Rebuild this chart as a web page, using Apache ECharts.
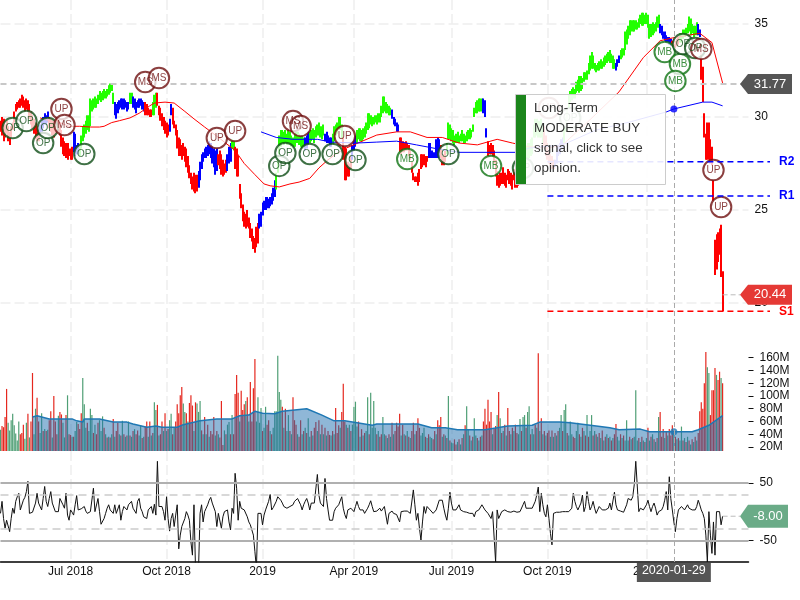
<!DOCTYPE html>
<html>
<head>
<meta charset="utf-8">
<style>html,body{margin:0;padding:0;background:#fff}#c{width:800px;height:600px}</style>
<script src="https://cdn.jsdelivr.net/npm/echarts@6/dist/echarts.min.js"></script>
</head>
<body>
<div id="c"></div>
<script>
const barHigh = [
29.8,30.0,29.9,29.6,29.8,29.5,29.2,29.5,29.7,30.3,
30.7,30.8,30.9,31.0,31.2,31.1,30.9,31.0,30.9,30.7,
30.3,30.1,29.9,29.7,29.5,29.3,29.6,29.8,30.0,30.2,
30.1,30.3,30.0,29.9,29.8,29.7,29.8,29.9,29.8,29.7,
29.3,28.9,28.7,28.6,28.6,28.3,28.3,28.4,29.2,29.1,
28.5,28.6,28.4,29.0,29.5,29.6,29.8,30.1,30.1,31.0,
30.9,31.0,31.1,31.0,31.2,31.4,31.3,31.4,31.5,31.4,
31.5,31.7,31.8,31.8,31.3,30.8,30.7,30.8,30.9,31.0,
31.0,31.0,30.9,30.8,30.8,31.3,31.3,31.1,31.0,30.8,
30.9,31.0,31.0,30.9,30.8,30.8,30.7,30.5,30.4,30.4,
30.8,31.2,31.3,31.3,30.6,30.5,30.2,30.0,29.8,29.7,
29.6,29.9,30.7,30.5,29.8,29.6,29.3,28.9,28.8,28.5,
28.6,28.4,28.3,27.9,27.4,27.0,26.8,27.0,26.9,26.9,
27.1,27.6,28.0,28.1,28.3,28.4,28.5,28.7,28.6,28.4,
28.3,28.2,28.3,28.0,28.2,28.0,27.7,27.5,27.7,28.0,
28.4,28.6,28.8,28.7,28.4,28.3,27.9,26.4,25.9,25.3,
24.9,24.8,25.0,24.6,24.3,24.0,23.6,23.5,24.1,24.3,
24.8,24.9,25.4,25.5,25.7,25.7,25.6,25.7,25.9,26.2,
26.6,27.0,27.9,29.0,29.3,29.3,29.2,29.3,29.1,29.3,
29.2,29.0,28.9,29.1,29.2,29.2,29.1,29.0,29.0,28.9,
28.9,29.0,29.2,29.2,29.3,29.4,29.3,29.5,29.6,29.7,
29.5,29.5,29.6,29.1,29.2,29.0,28.9,28.9,29.1,29.5,
29.6,29.7,30.0,30.0,29.6,28.9,28.4,28.3,27.6,27.5,
27.9,28.5,28.8,29.0,29.3,29.4,29.4,29.3,29.4,29.5,
29.7,30.2,30.2,30.1,30.0,30.0,30.1,30.1,30.2,30.2,
30.6,31.1,31.1,30.8,30.7,30.6,30.5,30.4,30.0,29.9,
29.7,29.6,28.9,28.9,28.7,28.6,28.7,28.6,28.5,28.2,
27.6,27.0,26.8,26.8,27.0,27.2,28.0,28.0,28.0,27.9,
27.9,28.6,28.6,28.2,28.1,28.1,28.8,28.9,28.8,28.5,
27.9,28.0,28.2,28.6,29.7,29.6,29.4,29.3,29.0,29.1,
29.2,29.0,29.1,29.3,29.1,29.0,29.2,29.3,29.4,29.3,
29.6,30.5,30.8,30.9,31.0,31.0,31.0,31.0,30.9,29.4,
28.7,28.5,28.6,28.5,28.2,27.7,27.1,26.9,27.0,27.0,
27.3,27.0,26.9,27.2,27.1,27.0,26.9,27.2,27.1,27.0,
27.0,27.1,27.3,27.4,28.1,28.4,28.6,28.6,28.8,28.9,
29.6,29.9,29.9,29.8,29.8,29.9,29.6,29.5,29.0,28.6,
28.2,28.0,27.9,27.7,27.7,28.2,28.5,28.6,28.8,28.9,
29.5,30.0,30.5,31.2,31.4,31.5,31.6,31.5,31.9,32.0,
32.2,32.2,32.1,32.4,32.4,32.5,32.9,33.3,33.5,33.3,
32.9,32.8,32.9,33.0,33.1,33.0,33.2,33.3,33.4,33.5,
33.6,33.4,33.3,33.1,32.9,33.1,33.3,33.6,33.7,33.7,
34.6,34.7,34.9,35.2,35.2,35.2,35.2,35.2,35.1,35.3,
35.5,35.6,35.6,35.5,35.6,35.5,35.0,35.0,35.1,35.0,
35.1,35.4,35.5,35.0,34.9,34.6,34.6,34.4,34.3,34.3,
34.2,34.1,34.2,34.1,34.2,34.3,34.5,34.5,34.7,34.7,
34.8,35.0,35.4,35.3,35.0,34.9,34.9,35.1,35.0,34.7,
33.6,32.7,30.2,29.1,29.7,29.7,28.8,28.4,26.6,23.4,23.7,23.8,24.0,24.2,21.7];
const barLow = [
29.2,29.0,28.7,28.9,29.1,28.7,28.5,28.9,29.3,29.7,
30.3,30.4,30.5,30.5,30.6,30.5,30.3,30.4,30.3,29.9,
29.6,29.4,29.1,28.8,28.7,28.7,29.0,29.2,29.4,29.6,
29.6,29.7,29.4,29.2,29.0,28.9,29.1,29.3,29.2,29.0,
28.4,28.0,27.9,27.8,27.7,27.9,27.7,27.7,28.1,27.9,
28.0,28.0,27.9,28.3,28.7,28.9,29.1,29.3,29.2,29.5,
30.3,30.4,30.5,30.5,30.7,30.9,30.8,30.9,31.0,31.0,
31.1,31.2,31.3,31.4,30.7,30.1,29.9,30.2,30.4,30.5,
30.4,30.4,30.5,30.3,30.4,30.7,30.7,30.5,30.4,30.2,
30.5,30.5,30.6,30.4,30.3,30.1,30.1,30.1,30.0,30.0,
30.1,30.1,30.5,30.6,30.1,29.8,29.5,29.3,29.1,28.9,
29.0,29.2,30.1,29.6,29.4,29.0,28.3,27.9,27.9,27.7,
27.9,27.6,27.3,27.0,26.7,26.4,26.1,26.0,25.9,26.0,
26.2,26.6,27.2,27.6,27.8,27.8,27.9,28.0,27.8,27.5,
27.3,26.9,27.1,27.4,27.2,26.9,26.8,26.9,27.0,27.1,
27.5,27.6,28.3,28.2,27.2,26.8,26.8,25.6,25.1,24.4,
24.1,24.0,24.1,24.0,23.5,23.3,22.9,22.7,23.0,23.2,
24.0,24.1,24.7,25.0,25.0,25.1,25.1,25.2,25.3,25.5,
25.7,26.1,27.0,28.0,28.4,28.6,28.5,28.6,28.5,28.5,
28.5,28.4,28.3,28.4,28.6,28.6,28.5,28.4,28.3,28.3,
28.2,28.3,28.5,28.6,28.7,28.8,28.6,28.9,29.0,29.0,
28.9,28.8,29.0,28.7,28.6,28.6,28.4,28.4,28.5,28.7,
29.0,29.1,29.3,29.3,28.8,27.7,26.6,26.6,26.8,26.8,
27.2,27.7,28.2,28.4,28.6,28.8,28.7,28.7,28.8,28.9,
29.1,29.3,29.4,29.6,29.5,29.6,29.7,29.6,29.7,29.7,
30.0,30.2,30.3,30.2,30.2,30.1,30.1,29.9,29.6,29.5,
29.2,29.2,28.1,28.0,28.1,28.1,28.2,28.2,27.9,27.7,
27.0,26.6,26.5,26.5,26.3,26.5,27.2,27.3,27.4,27.3,
27.6,27.8,27.8,27.8,27.8,27.8,27.8,27.8,27.8,27.8,
27.4,27.4,27.6,28.0,28.8,28.8,28.7,28.6,28.5,28.6,
28.6,28.6,28.7,28.7,28.6,28.6,28.7,28.8,28.8,28.9,
29.2,30.0,30.2,30.2,30.3,30.3,30.3,30.2,30.0,28.9,
27.9,28.0,28.0,27.9,27.5,26.8,26.3,26.2,26.3,26.4,
26.4,26.3,26.2,26.6,26.4,26.3,26.1,26.6,26.2,26.2,
26.3,26.5,26.6,26.8,27.2,27.6,27.7,27.8,27.9,28.0,
28.9,28.9,29.0,28.9,28.9,28.9,28.6,28.4,27.9,27.7,
27.5,27.4,27.2,27.2,27.3,27.5,27.9,28.0,28.2,28.3,
28.6,29.2,29.9,30.5,30.8,30.9,31.0,31.0,31.3,31.4,
31.3,31.4,31.5,31.9,32.0,32.0,32.3,32.5,32.6,32.6,
32.5,32.4,32.5,32.5,32.6,32.6,32.7,32.8,32.9,33.0,
32.9,32.9,32.6,32.6,32.5,32.7,32.9,33.1,33.2,33.3,
33.6,33.9,34.2,34.4,34.6,34.6,34.6,34.7,34.7,34.8,
35.0,34.9,34.9,35.0,35.0,34.8,34.2,34.3,34.4,34.5,
34.6,34.8,34.8,34.5,34.4,34.2,34.1,34.0,34.0,33.9,
33.8,33.8,33.7,33.7,33.8,33.9,34.0,34.0,34.2,34.3,
34.4,34.5,34.6,34.4,34.5,34.3,34.4,34.4,34.4,34.3,
32.0,30.8,28.9,27.7,27.7,27.7,27.5,27.4,25.5,21.5,21.8,22.2,22.6,21.4,19.55];
const trendStarts = [0,26,32,48,52,75,85,87,95,100,103,111,113,130,143,149,152,154,170,181,200,203,213,218,225,231,234,257,262,281,289,293,317,320,344,357,364,370,404,407,433,441,446,458,460];
const trendNames  = "r b r b g b g b r g r b r b r b g r b g b g b g r b g b r b r g b r g r b g b g b r g b r".split(" ");
const volumes = [
47,53,51,67,111,58,46,62,72,54,
41,30,60,40,42,55,33,58,72,35,
60,136,40,80,97,60,42,73,45,48,
45,47,62,76,35,100,60,40,69,75,
71,58,35,70,101,40,39,36,36,45,
59,56,48,73,128,87,50,58,45,80,
70,42,55,40,58,62,45,68,50,40,
35,36,35,40,64,36,45,58,40,38,
61,40,36,38,60,38,36,45,48,40,
46,38,54,34,36,52,60,36,60,38,
42,90,78,86,38,40,60,45,73,45,
48,62,72,40,50,60,87,73,101,114,
88,75,73,60,89,101,85,45,90,88,
75,92,46,40,67,40,55,36,45,40,
67,38,45,40,35,92,23,46,40,55,
59,40,70,40,103,133,105,60,108,78,
87,92,98,60,122,60,112,158,60,98,
58,81,45,50,83,55,62,45,40,50,
76,76,163,106,94,83,50,80,45,70,
45,40,98,62,55,40,36,62,40,45,
50,42,65,36,45,38,50,59,45,62,
40,55,40,50,38,45,39,38,45,40,
81,42,54,50,75,119,60,55,50,55,
45,55,83,91,52,60,36,48,38,42,
45,98,40,105,50,92,50,40,45,36,
40,67,40,38,34,40,36,58,40,45,
58,52,72,38,55,40,38,45,36,34,
45,58,40,45,65,50,38,42,50,36,
34,40,36,34,32,45,40,62,54,67,
36,40,38,34,100,30,27,26,32,24,
28,32,24,34,40,54,84,48,38,30,
36,65,38,34,30,36,38,60,80,55,
94,60,75,40,48,53,70,106,65,42,
45,55,38,81,45,40,50,45,55,42,
40,64,45,67,70,50,75,84,40,48,
40,55,50,167,45,65,40,45,38,42,
46,36,46,36,42,38,45,50,70,45,
78,87,42,38,60,40,36,34,45,58,
40,36,50,45,38,70,36,45,70,38,
45,40,36,42,34,46,30,36,40,34,
36,30,34,40,56,36,30,40,34,38,
30,62,30,36,32,34,36,109,30,34,
28,36,30,28,34,50,30,36,40,32,
28,34,67,75,36,48,34,44,38,48,
38,54,42,36,32,34,30,52,30,34,
28,36,30,24,32,28,36,30,42,76,
90,80,120,169,145,136,70,109,109,144,133,125,138,128,120];
const volumeSides = [
"grrrrggggg","gggrrrggrg","rrggrrggrg","rgrrgrrrgr","rggrgrrgrg","grrrgggrgg","grgrrgggrg","rgrgrgrrgr",
"grgrgrgrgr","rggrgrrgrg","rggrgrrgrg","rggrgrrrrr","ggrgrrrgrg","ggrgrgrgrr","rgrgrrrgrg","grgrrrrgrr",
"rgrgrrrrgg","ggrggrrgrg","gggggrgrgg","rgrrrgrrgr","grggrgrrgr","grgrgrrgrg","rrrgrrrgrg","rggggrgrgr",
"ggrggggrgr","rggrgrgrgr","rrrgrgrgrg","rrgrrrgggr","grggrrgrrr","grgrgrggrr","grgrgrggrg","rggrgrgrrr",
"rrrgrrgrgr","grgrrgrgrr","ggrggrggrg","grgrgrgrgr","rgrgrgrggr","ggrgggrrgg","rgrgrgrggr","grgrgrgrgr",
"grgrrggrgr","gggrgrgggr","grgrgrgrgr","grgrrrgrgr","rrgrgrggrg","rgrgrgrgrr","rrrrggrrrrgrrgr"].join("");
const volumeAvgIndex = [21,24,32,47,50,54,55,65,74,83,87,96,102,106,116,120,131,142,152,157,163,167,172,180,185,193,201,211,219,226,234,244,247,274,283,292,300,318,326,333,349,354,367,374,391,400,406,420,426,454,458,465,474];
const volumeAvgValue = [67,69,64,64,61,59,64,64,59,59,56,51,53,51,51,55,61,64,64,69,70,76,73,72,76,78,80,70,61,61,58,54,56,56,50,50,47,47,50,53,54,59,59,58,53,50,47,48,44,44,47,54,69];
const cciValues = [
-3,18,-12,-29,-15,-12,-35,-12,6,-3,
18,26,32,3,6,20,25,35,53,-3,
-1,-1,0,15,32,15,12,3,23,44,
18,9,23,35,15,12,0,-1,0,23,
23,12,6,32,-6,-15,3,-1,-6,12,
28,3,3,5,6,9,1,-3,-1,0,
3,41,0,0,23,0,-22,-20,-12,-3,
6,12,3,0,-3,12,-3,-3,12,-15,
0,9,6,3,12,12,18,6,3,-3,
18,23,6,0,-9,-6,-12,3,3,9,
-3,13,-6,88,9,6,9,0,-15,26,
-12,-34,-12,-3,-26,-6,12,-65,-41,-26,
-26,-12,0,-6,-15,-53,-76,12,-99,-99,
-99,-3,12,-18,0,6,12,20,25,15,
12,0,-26,-3,-3,-29,-9,0,0,3,
-18,-32,6,-3,67,41,-15,18,6,6,
3,3,-9,-18,-23,-32,-41,-70,-99,-3,
-3,-3,-23,-6,3,0,18,30,3,7,
9,18,26,26,20,15,9,12,6,3,
9,9,12,18,15,23,20,12,3,12,
18,23,15,3,15,18,15,15,65,29,
15,12,9,58,23,3,-15,-18,-15,0,
6,9,12,15,26,6,-5,-12,3,0,
6,9,0,9,18,9,3,0,3,-3,
0,6,12,19,9,0,-1,1,3,6,
1,3,9,12,-22,-3,-1,1,-3,0,
-5,-3,-18,0,3,1,0,1,-1,-3,
0,38,12,-15,-3,-29,-50,-18,9,-3,
9,9,3,0,-3,-6,3,3,20,20,
20,6,-6,-15,6,34,15,3,6,3,
6,12,3,3,0,3,-1,0,-3,0,
-3,-9,0,0,3,3,12,12,3,0,
-3,0,-12,0,3,-88,3,-12,-6,0,
3,3,3,0,-3,-1,0,1,0,-1,
0,0,1,12,18,6,3,6,3,6,
3,18,29,43,0,32,12,-3,-9,12,
-12,-38,-58,-3,-1,-1,0,-1,0,0,
-1,0,0,0,3,6,32,18,9,3,
6,15,29,0,9,35,18,3,9,18,
6,-3,3,9,6,3,0,3,3,6,
15,3,6,34,12,3,1,1,0,-1,
0,12,23,20,20,26,47,88,88,0,
6,9,3,3,12,20,9,0,9,15,
6,-6,0,0,3,9,20,35,3,61,
23,3,-18,-35,-12,3,5,9,9,3,
3,12,6,6,3,0,3,9,20,12,
3,-3,-12,-41,-88,0,-41,-73,-18,-76,0,0,0,-23,-8];
const redAvgIndex = [26,32,39,45,52,59,65,68,73,78,85,91,98,101,108,114,121,127,134,141,147,154,160,167,173,177,183,190,196,203,209,215,221,227,236,247,260,269,280,290,301,313,326,336,347,360,369,385,406,422,433,441,459,467,474];
const redAvgValue = [29.95,29.8,29.7,29.5,29.5,29.46,29.46,29.5,29.7,29.8,29.95,30.2,30.6,30.75,30.8,30.75,30.3,29.9,29.46,29.03,28.65,28.2,27.5,26.9,26.4,26.3,26.24,26.4,26.5,26.7,27.26,27.7,28.06,28.33,28.65,29.03,29.2,29.2,28.9,28.9,28.6,28.5,28.8,28.6,28.4,28.33,28.5,29.7,31.35,33.2,34.1,34.25,34.5,34.0,31.83];
const blueAvgIndex = [171,181,192,208,217,234,247,260,273,286,301,323,339,347,369,391,413,437,442,461,467,474];
const blueAvgValue = [29.2,28.9,28.8,28.8,28.65,28.6,28.65,28.7,28.5,28.3,28.1,28.1,28.1,28.33,28.5,29.3,29.73,30.27,30.43,30.8,30.8,30.6];
const signalIndex = [8,17,28,31,40,42,55,95,104,142,154,183,187,192,197,203,218,226,233,267,294,322,343,360,374,436,446,443,448,456,460,468,473];
const signalPrice = [29.41,29.78,28.6,29.41,30.43,29.57,28.01,31.88,32.1,28.87,29.25,27.37,28.06,29.78,29.52,28.01,28.01,28.98,27.69,27.74,28.01,27.37,27.26,30.48,29.95,33.49,32.85,31.94,33.92,33.71,33.66,27.15,25.16];
const signalText = ["OP","OP","OP","OP","UP","MS","OP","MS","MS","UP","UP","OP","OP","MS","MS","OP","OP","UP","OP","MB","OP","MB","OP","UP","OP","MB","MB","MB","OP","OP","MS","UP","UP"];
const tickIndex = [46,109,172,232,296,359,424];
const tickNames = ["Jul 2018","Oct 2018","2019","Apr 2019","Jul 2019","Oct 2019","2020"];
const priceTicks = [20,25,30,35];
const volumeTicks = [20,40,60,80,100,120,140,160];
const cciTicks = [-50,50];
const levelNames = ["R2","R1","S1"];
const levelValues = [27.6,25.75,19.55];
const levelColors = ["#0000ff","#0000ff","#ff0000"];
const crossIndex = 442;
const crossDate = "2020-01-29";
const crossVolume = 44;
const lastAverage = 31.77;
const lastPrice = 20.44;
const lastCci = -8;
const lastIndex = 474;
const noteLines = ["Long-Term","MODERATE BUY","signal, click to see","opinion."];

const FONT = "'Liberation Sans', Arial, sans-serif";
const CAT_COUNT = 492;
const categories = Array.from({length: CAT_COUNT}, (_, i) => String(i));
const TREND = {r:"#ff0000", g:"#22ff00", b:"#0000ff"};
const SIDE = {r:"#e5281f", g:"#4f9f75"};
const SIGNAL = {OP:"#0f4d17", MB:"#0e7312", UP:"#6e0f0f", MS:"#6e0f0f"};

function trendAt(i){
  let k = 0;
  for (let j = 0; j < trendStarts.length; j++) if (trendStarts[j] <= i) k = j;
  return TREND[trendNames[k]];
}
const priceBars = barHigh.map((h, i) => [i, barLow[i], h]);
function renderPriceBar(params, api){
  const i = api.value(0);
  const top = api.coord([i, api.value(2)]);
  const bottom = api.coord([i, api.value(1)]);
  const left = Math.round(top[0]) - 1;
  return {type:"rect", shape:{x:left, y:top[1], width:2, height:Math.max(1, bottom[1]-top[1])}, style:{fill:trendAt(i)}};
}
const volumeBars = volumes.map((v, i) => ({value:v, itemStyle:{color:SIDE[volumeSides[i]] || SIDE.g}}));
const pair = (a, b) => a.map((x, i) => [x, b[i]]);
const splitLine = {show:true, interval:(i) => tickIndex.indexOf(i) >= 0, lineStyle:{color:"#eeeeee", width:1.5, type:[10,4]}};
const crossLine = {xAxis:crossIndex, lineStyle:{color:"#aaaaaa", width:1, type:[5,3]}};
const marker = (data) => ({silent:true, symbol:"none", animation:false, label:{show:false}, data});

function xAxis(gridIndex, labels){
  return {type:"category", gridIndex, data:categories, boundaryGap:false,
    axisLine:{show:labels, onZero:false, lineStyle:{color:"#000", width:1.5}},
    axisTick:{show:false}, splitLine,
    axisLabel:{show:labels, color:"#111", fontFamily:FONT, fontSize:12, margin:4, hideOverlap:false,
      interval:(i) => tickIndex.indexOf(i) >= 0,
      formatter:(v, i) => tickNames[tickIndex.indexOf(i)] || ""}};
}
function yAxis(gridIndex, min, max, ticks, tickShow, margin, fmt, grid){
  return {type:"value", gridIndex, position:"right", min, max, scale:true,
    axisLine:{show:false},
    axisTick:{show:tickShow, length:5, customValues:ticks, lineStyle:{color:"#111"}},
    splitLine:grid ? {show:true, lineStyle:{color:"#eeeeee", width:1.5, type:[10,4]}} : {show:false},
    axisLabel:{color:"#111", fontFamily:FONT, fontSize:12, margin, customValues:ticks, formatter:fmt}};
}

const chart = echarts.init(document.getElementById("c"), null, {renderer:"canvas"});
chart.setOption({
  animation:false,
  backgroundColor:"#fff",
  textStyle:{fontFamily:FONT},
  grid:[
    {left:0.5, top:0, width:748, height:340},
    {left:0.5, top:340, width:748, height:111},
    {left:0.5, top:451, width:748, height:111}
  ],
  xAxis:[xAxis(0,false), xAxis(1,false), xAxis(2,true)],
  yAxis:[
    yAxis(0, 18.01, 36.29, priceTicks, false, 6, (v) => String(v), true),
    yAxis(1, 13.7, 187.7, volumeTicks, true, 11, (v) => v + "M", false),
    yAxis(2, -88, 106, cciTicks, true, 11, (v) => String(v), false)
  ],
  series:[
    {type:"custom", xAxisIndex:0, yAxisIndex:0, data:priceBars, renderItem:renderPriceBar, encode:{x:0, y:[1,2]}, z:3},
    {type:"line", xAxisIndex:0, yAxisIndex:0, data:pair(redAvgIndex, redAvgValue), symbol:"none", lineStyle:{color:"#ff0000", width:1}, z:4,
      markLine:marker([
        {yAxis:lastAverage, lineStyle:{color:"#c8c8c8", width:2, type:[6,4]}},
        crossLine
      ])},
    {type:"line", xAxisIndex:0, yAxisIndex:0, data:pair(blueAvgIndex, blueAvgValue), symbol:"none", lineStyle:{color:"#0000ff", width:1}, z:4},
    {type:"scatter", xAxisIndex:0, yAxisIndex:0, data:[[crossIndex, blueAvgValue[blueAvgIndex.indexOf(crossIndex)]]], symbolSize:7, itemStyle:{color:"#0000ff"}, z:5},
    {type:"scatter", xAxisIndex:0, yAxisIndex:0, z:6, symbolSize:20.5,
      data:signalIndex.map((x, i) => ({
        value:[x, signalPrice[i]],
        itemStyle:{color:"rgba(255,255,255,0.95)", borderColor:SIGNAL[signalText[i]], borderWidth:2},
        label:{show:true, position:"inside", formatter:signalText[i], color:SIGNAL[signalText[i]], fontFamily:FONT, fontSize:10}
      }))},
    {type:"bar", xAxisIndex:1, yAxisIndex:1, barWidth:1.2, data:volumeBars, z:2, markLine:marker([crossLine])},
    {type:"line", xAxisIndex:1, yAxisIndex:1, data:pair(volumeAvgIndex, volumeAvgValue), symbol:"none",
      lineStyle:{color:"#1f78b4", width:1.5}, areaStyle:{color:"#1f6fb0", opacity:0.5}, z:3},
    {type:"scatter", xAxisIndex:1, yAxisIndex:1, data:[[crossIndex, crossVolume]], symbolSize:7, itemStyle:{color:"#1f78b4"}, z:4},
    {type:"line", xAxisIndex:2, yAxisIndex:2, data:cciValues, symbol:"none", lineStyle:{color:"#111", width:1}, z:3,
      markLine:marker([
        {yAxis:50, lineStyle:{color:"#b0b0b0", width:2, type:"solid"}},
        {yAxis:-50, lineStyle:{color:"#b0b0b0", width:2, type:"solid"}},
        {yAxis:30, lineStyle:{color:"#cccccc", width:1.5, type:[8,5]}},
        {yAxis:-30, lineStyle:{color:"#cccccc", width:1.5, type:[8,5]}},
        crossLine
      ])}
  ]
});

const py = (v) => chart.convertToPixel({yAxisIndex:0}, v);
const vy = (v) => chart.convertToPixel({yAxisIndex:2}, v);
const px = (i) => chart.convertToPixel({xAxisIndex:0}, i);
const tagPts = (y, right, h) => [[740,y],[748,y-h/2],[right,y-h/2],[right,y+h/2],[748,y+h/2]];
function tag(y, color, text, right, h){
  return [
    {type:"polygon", z:50, shape:{points:tagPts(y,right,h)}, style:{fill:color}},
    {type:"text", z:51, style:{x:(748+right)/2, y:y, text, fill:"#fff", font:"13px "+FONT, align:"center", verticalAlign:"middle"}}
  ];
}
function connector(y){
  return {type:"line", z:10, shape:{x1:px(lastIndex), y1:y, x2:740, y2:y}, style:{stroke:"#bbbbbb", lineWidth:1, lineDash:[5,3]}};
}
const graphics = [];
levelValues.forEach((v, i) => {
  const y = py(v);
  graphics.push({type:"line", z:9, shape:{x1:px(359), y1:y, x2:770, y2:y}, style:{stroke:levelColors[i], lineWidth:1.5, lineDash:[6,4]}});
  graphics.push({type:"text", z:52, style:{x:779, y:y, text:levelNames[i], fill:levelColors[i], font:"bold 12px "+FONT, verticalAlign:"middle"}});
});
graphics.push(connector(py(lastPrice)), connector(vy(lastCci)));
graphics.push(...tag(py(lastAverage), "#555555", lastAverage.toFixed(2), 792, 20));
graphics.push(...tag(py(lastPrice), "#e53935", lastPrice.toFixed(2), 792, 20));
graphics.push(...tag(vy(lastCci), "#6aab87", lastCci.toFixed(2), 788, 23));
const cx = px(crossIndex);
graphics.push({type:"rect", z:60, shape:{x:cx-37, y:563, width:74, height:19}, style:{fill:"#555555"}});
graphics.push({type:"text", z:61, style:{x:cx, y:570.5, text:crossDate, fill:"#fff", font:"12.5px "+FONT, align:"center", verticalAlign:"middle"}});
graphics.push({type:"rect", z:70, shape:{x:515.5, y:94.5, width:150, height:90}, style:{fill:"rgba(255,255,255,0.9)", stroke:"#cccccc", lineWidth:1}});
graphics.push({type:"rect", z:71, shape:{x:516, y:95, width:10, height:89}, style:{fill:"#1b851b"}});
noteLines.forEach((t, i) => {
  graphics.push({type:"text", z:72, style:{x:534, y:108+i*20, text:t, fill:"#333333", font:"13.4px "+FONT, verticalAlign:"middle"}});
});
chart.setOption({graphic:graphics});
</script>
</body>
</html>
